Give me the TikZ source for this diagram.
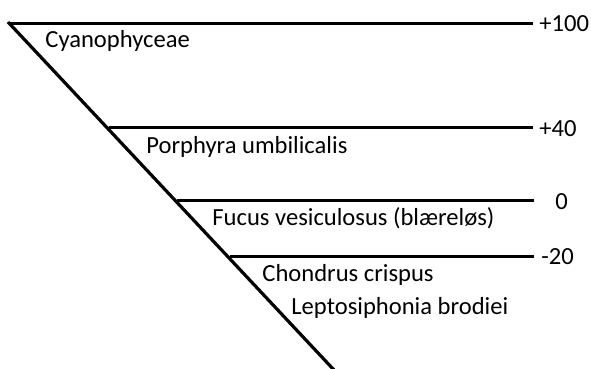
\documentclass[tikz,border=0pt]{standalone}
\usepackage{fontspec}
\setmainfont{Carlito}
\usetikzlibrary{positioning}

\tikzset{
  zoneline/.style={line width=1.5pt, line cap=butt},
  shoreline/.style={line width=1.6pt, line cap=butt},
  species/.style={anchor=base west, inner sep=0pt, font=\fontsize{12.3}{14}\selectfont},
  level/.style={anchor=west, inner sep=0pt, font=\fontsize{12.3}{14}\selectfont},
}

\begin{document}
\begin{tikzpicture}[x=0.5pt,y=-0.5pt]
\useasboundingbox (0,0) rectangle (591,369);

% the slope
\coordinate (top) at (8,22);
\coordinate (bottom) at (334,370);
\draw[shoreline] (top) -- (bottom);

% zone limits
\coordinate (s100) at (9,23.5);   \coordinate (e100) at (533,23.5);
\coordinate (s40) at (109,128);   \coordinate (e40) at (533,128);
\coordinate (s0) at (177,201);    \coordinate (e0) at (534,201);
\coordinate (s20) at (230,257);   \coordinate (e20) at (534,257);

\draw[zoneline] (s100) -- (e100);
\draw[zoneline] (s40) -- (e40);
\draw[zoneline] (s0) -- (e0);
\draw[zoneline] (s20) -- (e20);

\node[level] (l100) at (539,24) {+100};
\node[level] (l40) at (539,129) {+40};
\node[level] (l0) at (555,202) {0};
\node[level] (l20) at (541,257) {-20};

% species
\node[species] (cyano) at (45,48) {Cyanophyceae};
\node[species] (porph) at (146,154) {Porphyra umbilicalis};
\node[species] (fucus) at (212,226) {Fucus vesiculosus (blæreløs)};
\node[species] (chond) at (262,282) {Chondrus crispus};
\node[species] (lepto) at (291,315) {Leptosiphonia brodiei};
\end{tikzpicture}
\end{document}
